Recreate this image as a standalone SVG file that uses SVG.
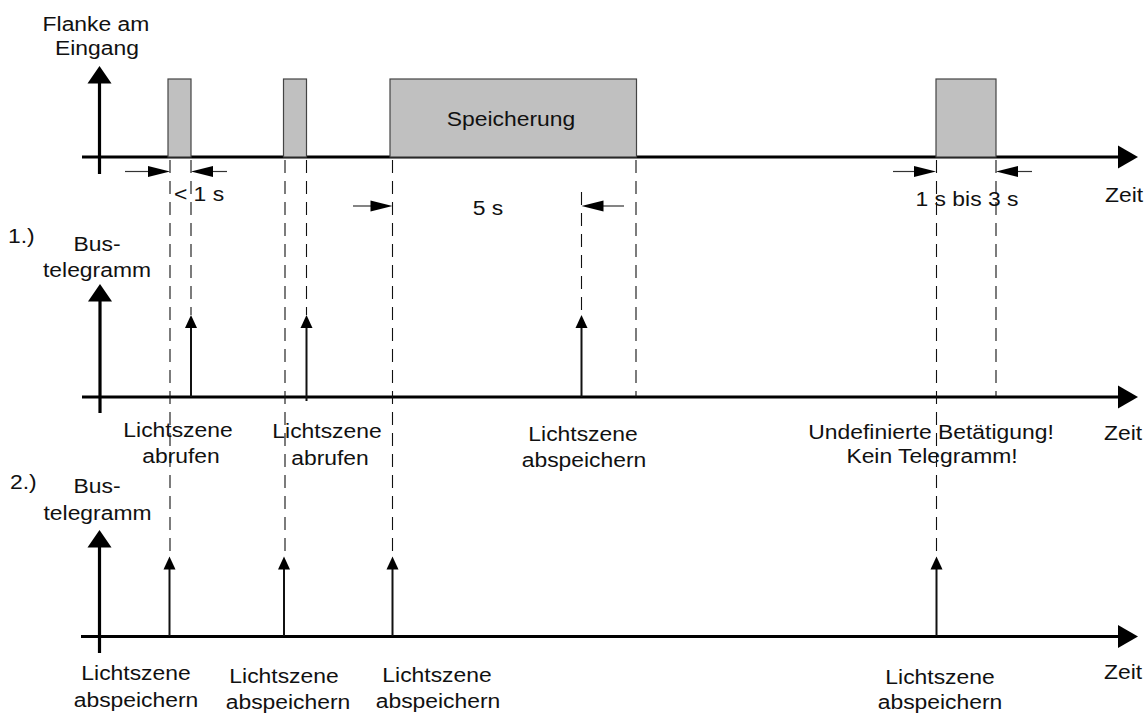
<svg xmlns="http://www.w3.org/2000/svg" xmlns:xlink="http://www.w3.org/1999/xlink" width="1148" height="713" viewBox="0 0 1148 713">
<style>
  text { font-family: "Liberation Sans", Arial, sans-serif; font-size: 21px; fill: #111; }
  .mid { text-anchor: middle; }
  .axis { stroke: #000; stroke-width: 3.2; fill: none; }
  .tick { stroke: #111; stroke-width: 2; fill: none; }
  .dash { stroke: #111; stroke-width: 1.1; stroke-dasharray: 13 8; fill: none; }
  .dim { stroke: #333; stroke-width: 1.2; fill: none; }
  .pulse { fill: #c0c0c0; stroke: #444; stroke-width: 1.2; }
  .head { fill: #000; }
</style>
<defs>
  <path id="hUpBig" d="M0,0 L12,17.5 L-12,17.5 Z"/>
  <path id="hRightBig" d="M0,0 L-20,-11.5 L-20,11.5 Z"/>
  <path id="hUpSmall" d="M0,0 L6,13 L-6,13 Z"/>
  <path id="hDimR" d="M0,0 L-22,-5.5 L-22,5.5 Z"/>
  <path id="hDimL" d="M0,0 L22,-5.5 L22,5.5 Z"/>
</defs>

<g id="axis-input">
  <line class="axis" x1="82" y1="157" x2="1120" y2="157"/>
  <use href="#hRightBig" class="head" x="1138" y="157"/>
  <line class="axis" x1="99.5" y1="174" x2="99.5" y2="80"/>
  <use href="#hUpBig" class="head" x="99.5" y="66"/>
  <text transform="translate(96,31) scale(1.09,1)" class="mid">Flanke am</text>
  <text transform="translate(97,55) scale(1.09,1)" class="mid">Eingang</text>
  <text transform="translate(1124,202) scale(1.09,1)" class="mid">Zeit</text>
</g>

<g id="axis-row1">
  <line class="axis" x1="82" y1="397" x2="1120" y2="397"/>
  <use href="#hRightBig" class="head" x="1138" y="397"/>
  <line class="axis" x1="100" y1="413" x2="100" y2="298"/>
  <use href="#hUpBig" class="head" x="100" y="284"/>
  <text transform="translate(8,243) scale(1.09,1)">1.)</text>
  <text transform="translate(97,251) scale(1.09,1)" class="mid">Bus-</text>
  <text transform="translate(97,277) scale(1.09,1)" class="mid">telegramm</text>
  <text transform="translate(1123,440) scale(1.09,1)" class="mid">Zeit</text>
</g>

<g id="axis-row2">
  <line class="axis" x1="81" y1="636.5" x2="1120" y2="636.5"/>
  <use href="#hRightBig" class="head" x="1138" y="636.5"/>
  <line class="axis" x1="99.5" y1="653" x2="99.5" y2="544"/>
  <use href="#hUpBig" class="head" x="99.5" y="530"/>
  <text transform="translate(10,489) scale(1.09,1)">2.)</text>
  <text transform="translate(97,493) scale(1.09,1)" class="mid">Bus-</text>
  <text transform="translate(97.5,520) scale(1.09,1)" class="mid">telegramm</text>
  <text transform="translate(1123,679) scale(1.09,1)" class="mid">Zeit</text>
</g>

<g id="pulse-1"><rect class="pulse" x="168" y="79" width="23" height="78"/></g>
<g id="pulse-2"><rect class="pulse" x="283.5" y="79" width="23" height="78"/></g>
<g id="pulse-3">
  <rect class="pulse" x="390" y="79" width="246.5" height="78"/>
  <text transform="translate(511,126) scale(1.09,1)" class="mid">Speicherung</text>
</g>
<g id="pulse-4"><rect class="pulse" x="936" y="79" width="60" height="78"/></g>

<g id="connectors">
  <line class="dash" x1="170" y1="160" x2="170" y2="556"/>
  <line class="dash" x1="191" y1="160" x2="191" y2="315"/>
  <line class="dash" x1="285" y1="160" x2="285" y2="556"/>
  <line class="dash" x1="306.5" y1="160" x2="306.5" y2="315"/>
  <line class="dash" x1="392.5" y1="160" x2="392.5" y2="556"/>
  <line class="dash" x1="581.5" y1="192" x2="581.5" y2="315"/>
  <line class="dash" x1="636" y1="160" x2="636" y2="397"/>
  <line class="dash" x1="936.5" y1="160" x2="936.5" y2="556"/>
  <line class="dash" x1="996" y1="160" x2="996" y2="397"/>

  <line class="dim" x1="125" y1="171.5" x2="150" y2="171.5"/>
  <use href="#hDimR" class="head" x="170" y="171.5"/>
  <line class="dim" x1="227" y1="171.5" x2="210" y2="171.5"/>
  <use href="#hDimL" class="head" x="191" y="171.5"/>

  <line class="dim" x1="353" y1="206" x2="373" y2="206"/>
  <use href="#hDimR" class="head" x="392.5" y="206"/>
  <line class="dim" x1="624" y1="206" x2="601" y2="206"/>
  <use href="#hDimL" class="head" x="581.5" y="206"/>

  <line class="dim" x1="893" y1="171.5" x2="916" y2="171.5"/>
  <use href="#hDimR" class="head" x="936" y="171.5"/>
  <line class="dim" x1="1032" y1="171.5" x2="1016" y2="171.5"/>
  <use href="#hDimL" class="head" x="996" y="171.5"/>

  <line class="tick" x1="191" y1="397" x2="191" y2="326"/>
  <use href="#hUpSmall" class="head" x="191" y="315"/>
  <line class="tick" x1="306.5" y1="401" x2="306.5" y2="326"/>
  <use href="#hUpSmall" class="head" x="306.5" y="315"/>
  <line class="tick" x1="581.5" y1="397" x2="581.5" y2="326"/>
  <use href="#hUpSmall" class="head" x="581.5" y="315"/>

  <line class="tick" x1="169.5" y1="636" x2="169.5" y2="567"/>
  <use href="#hUpSmall" class="head" x="169.5" y="556.5"/>
  <line class="tick" x1="284" y1="636" x2="284" y2="567"/>
  <use href="#hUpSmall" class="head" x="284" y="556.5"/>
  <line class="tick" x1="392.5" y1="636" x2="392.5" y2="567"/>
  <use href="#hUpSmall" class="head" x="392.5" y="556.5"/>
  <line class="tick" x1="936.5" y1="636" x2="936.5" y2="567"/>
  <use href="#hUpSmall" class="head" x="936.5" y="556.5"/>
</g>

<g id="dimension-labels">
  <text transform="translate(199,201) scale(1.09,1)" class="mid">&lt; 1 s</text>
  <text transform="translate(488,215) scale(1.09,1)" class="mid">5 s</text>
  <text transform="translate(967,206) scale(1.09,1)" class="mid">1 s bis 3 s</text>
</g>

<g id="labels-row1">
  <text transform="translate(178,437) scale(1.09,1)" class="mid">Lichtszene</text>
  <text transform="translate(181,463) scale(1.09,1)" class="mid">abrufen</text>
  <text transform="translate(327,438) scale(1.09,1)" class="mid">Lichtszene</text>
  <text transform="translate(330,465) scale(1.09,1)" class="mid">abrufen</text>
  <text transform="translate(583,441) scale(1.09,1)" class="mid">Lichtszene</text>
  <text transform="translate(584,467) scale(1.09,1)" class="mid">abspeichern</text>
  <text transform="translate(931,439) scale(1.09,1)" class="mid">Undefinierte Betätigung!</text>
  <text transform="translate(932,463) scale(1.09,1)" class="mid">Kein Telegramm!</text>
</g>

<g id="labels-row2">
  <text transform="translate(136,680) scale(1.09,1)" class="mid">Lichtszene</text>
  <text transform="translate(136,706.5) scale(1.09,1)" class="mid">abspeichern</text>
  <text transform="translate(284,683) scale(1.09,1)" class="mid">Lichtszene</text>
  <text transform="translate(288,709) scale(1.09,1)" class="mid">abspeichern</text>
  <text transform="translate(437,682) scale(1.09,1)" class="mid">Lichtszene</text>
  <text transform="translate(438,708) scale(1.09,1)" class="mid">abspeichern</text>
  <text transform="translate(940,684) scale(1.09,1)" class="mid">Lichtszene</text>
  <text transform="translate(940,709) scale(1.09,1)" class="mid">abspeichern</text>
</g>
</svg>
